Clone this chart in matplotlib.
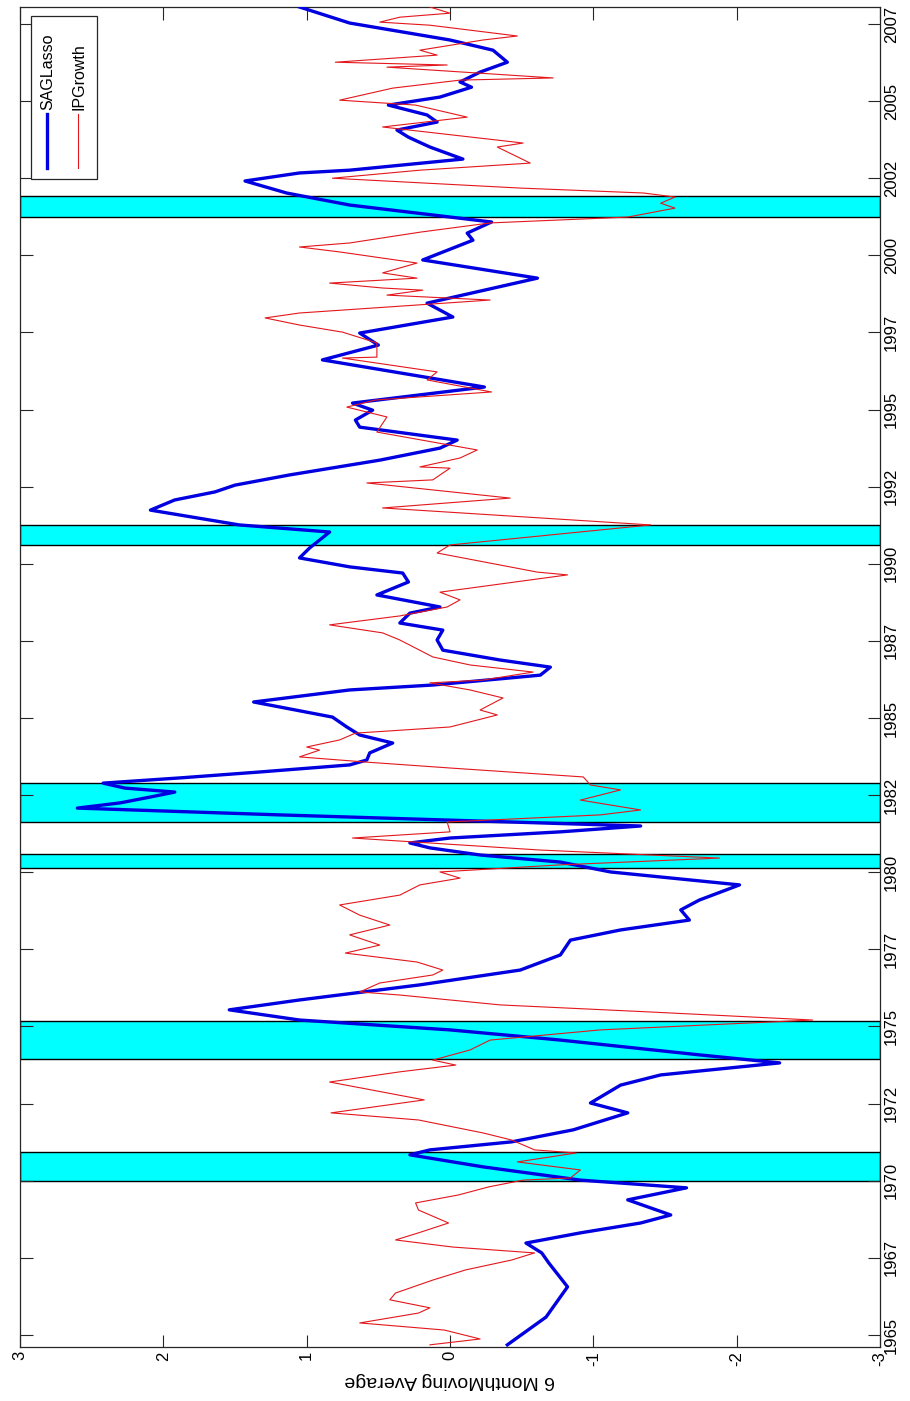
import numpy as np
import matplotlib.pyplot as plt
from matplotlib.patches import Rectangle

# SAGLasso index (6 month moving average)
sag_years = [1964.68, 1965.58, 1966.56, 1967.33, 1967.66, 1967.98, 1968.31, 1968.63, 1968.89, 1969.38,
             1969.77, 1970.02, 1970.45, 1970.84, 1971.00, 1971.26, 1971.65, 1972.20, 1972.52, 1973.10,
             1973.43, 1973.82, 1974.08, 1974.56, 1974.89, 1975.21, 1975.54, 1975.86, 1976.35, 1976.83,
             1977.32, 1977.80, 1978.13, 1978.45, 1978.78, 1979.10, 1979.59, 1980.01, 1980.33, 1980.56,
             1980.79, 1980.95, 1981.11, 1981.31, 1981.50, 1981.69, 1981.86, 1982.08, 1982.25, 1982.44,
             1982.60, 1982.73, 1982.89, 1983.06, 1983.25, 1983.48, 1983.64, 1983.87, 1984.19, 1984.45,
             1984.71, 1985.03, 1985.52, 1985.91, 1986.07, 1986.39, 1986.65, 1986.88, 1987.20, 1987.53,
             1987.85, 1988.08, 1988.40, 1988.60, 1988.99, 1989.41, 1989.70, 1989.90, 1990.19, 1990.51,
             1990.77, 1991.03, 1991.26, 1991.74, 1992.07, 1992.33, 1992.55, 1992.88, 1993.36, 1993.75,
             1994.01, 1994.43, 1994.66, 1994.98, 1995.21, 1995.73, 1996.61, 1997.09, 1997.48, 1998.00,
             1998.45, 1999.26, 1999.85, 2000.49, 2000.72, 2001.08, 2001.63, 2002.02, 2002.41, 2002.67,
             2002.76, 2003.12, 2003.51, 2003.83, 2004.06, 2004.32, 2004.55, 2004.87, 2005.13, 2005.45,
             2005.62, 2005.94, 2006.26, 2006.65, 2006.98, 2007.53, 2008.05]
sag_vals = [-0.40, -0.67, -0.82, -0.69, -0.64, -0.53, -0.91, -1.33, -1.54, -1.24,
            -1.65, -0.91, -0.23, 0.28, 0.14, -0.43, -0.86, -1.24, -0.98, -1.19,
            -1.47, -2.30, -1.74, -0.77, 0.00, 1.05, 1.54, 1.05, 0.21, -0.49,
            -0.77, -0.84, -1.19, -1.67, -1.61, -1.74, -2.02, -1.12, -0.77, -0.21,
            0.14, 0.28, 0.00, -0.77, -1.33, 0.00, 1.19, 2.60, 2.30, 2.09,
            1.92, 2.27, 2.42, 1.88, 1.33, 0.70, 0.58, 0.56, 0.40, 0.63,
            0.72, 0.82, 1.37, 0.70, 0.12, -0.63, -0.70, -0.35, 0.05, 0.09,
            0.05, 0.35, 0.28, 0.07, 0.51, 0.29, 0.33, 0.70, 1.05, 0.98,
            0.91, 0.84, 1.47, 2.09, 1.92, 1.64, 1.50, 1.12, 0.49, 0.07,
            -0.05, 0.63, 0.66, 0.54, 0.68, -0.24, 0.89, 0.50, 0.63, -0.02,
            0.16, -0.61, 0.19, -0.16, -0.12, -0.29, 0.70, 1.14, 1.43, 1.05,
            0.70, -0.09, 0.14, 0.29, 0.37, 0.09, 0.16, 0.43, 0.07, -0.15,
            -0.07, -0.21, -0.40, -0.30, 0.00, 0.70, 1.05]

# Industrial production growth (6 month moving average)
ip_years = [1964.68, 1964.87, 1965.16, 1965.39, 1965.71, 1965.88, 1966.14, 1966.36, 1966.78, 1967.11,
            1967.43, 1967.66, 1967.85, 1968.08, 1968.31, 1968.63, 1969.05, 1969.28, 1969.54, 1969.80,
            1970.02, 1970.09, 1970.35, 1970.61, 1970.90, 1971.00, 1971.32, 1971.55, 1971.71, 1971.97,
            1972.20, 1972.62, 1973.20, 1973.53, 1973.75, 1973.91, 1974.24, 1974.56, 1974.89, 1975.21,
            1975.47, 1975.70, 1976.02, 1976.12, 1976.41, 1976.67, 1976.83, 1977.09, 1977.38, 1977.64,
            1977.97, 1978.29, 1978.61, 1978.94, 1979.26, 1979.59, 1979.81, 1980.01, 1980.24, 1980.46,
            1980.72, 1981.11, 1981.31, 1981.63, 1981.86, 1982.02, 1982.34, 1982.67, 1982.83, 1983.09,
            1983.38, 1983.57, 1983.74, 1983.96, 1984.06, 1984.29, 1984.51, 1984.71, 1985.10, 1985.26,
            1985.65, 1985.91, 1986.14, 1986.23, 1986.49, 1986.72, 1986.98, 1987.53, 1987.76, 1988.02,
            1988.31, 1988.60, 1988.83, 1989.08, 1989.64, 1989.73, 1990.35, 1990.61, 1991.26, 1991.81,
            1992.13, 1992.62, 1992.72, 1993.10, 1993.14, 1993.43, 1993.69, 1994.27, 1994.76, 1995.08,
            1995.31, 1995.57, 1995.96, 1996.22, 1996.67, 1996.70, 1997.16, 1997.51, 1997.74, 1997.97,
            1998.13, 1998.55, 1998.71, 1998.87, 1998.94, 1999.10, 1999.26, 1999.43, 1999.75, 2000.11,
            2000.27, 2000.40, 2000.75, 2001.05, 2001.24, 2001.53, 2001.69, 2001.89, 2002.02, 2002.18,
            2002.34, 2002.50, 2002.76, 2002.99, 2003.51, 2003.64, 2004.16, 2004.48, 2004.87, 2005.03,
            2005.42, 2005.68, 2005.75, 2006.10, 2006.17, 2006.26, 2006.49, 2006.65, 2006.98, 2007.11,
            2007.46, 2007.56, 2007.72, 2007.85, 2008.05]
ip_vals = [0.14, -0.21, 0.04, 0.63, 0.22, 0.14, 0.42, 0.38, 0.12, -0.11,
           -0.43, -0.59, -0.02, 0.38, 0.22, 0.01, 0.22, 0.24, -0.06, -0.27,
           -0.51, -0.84, -0.91, -0.47, -0.88, -0.59, -0.43, -0.23, -0.06, 0.22,
           0.83, 0.18, 0.84, 0.35, -0.04, 0.12, -0.14, -0.28, -1.05, -2.53,
           -1.40, -0.35, 0.35, 0.63, 0.49, 0.12, 0.05, 0.23, 0.73, 0.49,
           0.70, 0.42, 0.63, 0.77, 0.35, 0.21, -0.07, 0.07, -0.77, -1.88,
           -0.63, 0.68, 0.00, 0.02, -1.05, -1.33, -0.91, -1.19, -0.98, -0.93,
           0.00, 0.58, 1.05, 0.91, 1.00, 0.77, 0.66, 0.00, -0.33, -0.21,
           -0.37, -0.14, 0.14, -0.23, -0.58, -0.14, 0.12, 0.35, 0.47, 0.84,
           0.35, 0.02, -0.07, 0.07, -0.82, -0.61, 0.09, 0.00, -1.40, 0.47,
           -0.42, 0.58, 0.12, 0.00, 0.21, -0.07, -0.19, 0.51, 0.44, 0.72,
           0.52, -0.29, 0.16, 0.09, 0.75, 0.51, 0.51, 0.75, 1.05, 1.29,
           1.05, -0.28, 0.44, 0.19, 0.47, 0.84, 0.23, 0.47, 0.23, 0.77,
           1.05, 0.70, 0.21, -0.28, -1.24, -1.57, -1.47, -1.57, -1.35, -0.49,
           0.16, 0.82, 0.21, -0.56, -0.33, -0.51, 0.47, -0.12, 0.24, 0.77,
           0.40, -0.07, -0.72, 0.44, 0.02, 0.80, 0.09, 0.21, -0.23, -0.47,
           0.14, 0.49, 0.35, 0.00, 0.14]

# NBER recession bands
recessions = [(1970.00, 1970.93), (1973.95, 1975.18), (1980.13, 1980.59),
              (1981.62, 1982.90), (1990.60, 1991.27), (2001.24, 2001.93)]

year_ticks = [1965 + 2.5 * k for k in range(18)]
year_labels = ['1965', '1967', '1970', '1972', '1975', '1977', '1980', '1982', '1985',
               '1987', '1990', '1992', '1995', '1997', '2000', '2002', '2005', '2007']
value_ticks = [3, 2, 1, 0, -1, -2, -3]

plt.rcParams['font.family'] = ['Liberation Sans Narrow', 'Liberation Sans', 'DejaVu Sans']

blue = '#0000e0'
red = '#e3171c'
edge = '#262626'

fig = plt.figure(figsize=(9.1, 14.01), dpi=100)
ax = fig.add_axes([20 / 910, 54 / 1401, 860 / 910, 1340 / 1401])

for lo, hi in recessions:
    ax.axhspan(lo, hi, facecolor='#00ffff', edgecolor='black', linewidth=1.0, zorder=1)

ax.plot(sag_vals, sag_years, color=blue, lw=2.4, zorder=3)
ax.plot(ip_vals, ip_years, color=red, lw=0.8, zorder=4)

ax.set_xlim(3, -3)
ax.set_ylim(1964.61, 2008.05)
ax.set_xticks(value_ticks)
ax.set_xticklabels([str(v) for v in value_ticks], rotation=90)
ax.set_yticks(year_ticks)
ax.set_yticklabels(year_labels, rotation=90, va='center')
ax.tick_params(direction='in', length=9, width=0.8, color=edge,
               top=True, bottom=True, left=True, right=True,
               labelleft=False, labelright=True, labelsize=12, pad=3)
for s in ax.spines.values():
    s.set_color(edge)
    s.set_linewidth(0.9)
ax.set_xlabel('6 MonthMoving Average', rotation=180, fontsize=14, labelpad=4)

# legend drawn rotated, like the rest of the figure
ax.add_patch(Rectangle((0.0128, 0.8716), 0.0767, 0.1217, transform=ax.transAxes,
                       facecolor='white', edgecolor=edge, lw=0.9, zorder=5))
ax.plot([0.0314, 0.0314], [0.880, 0.920], transform=ax.transAxes, color=blue, lw=2.4, zorder=6)
ax.plot([0.0674, 0.0674], [0.880, 0.920], transform=ax.transAxes, color=red, lw=0.8, zorder=6)
ax.text(0.0325, 0.923, 'SAGLasso', transform=ax.transAxes, rotation=90,
        ha='center', va='bottom', fontsize=11.5, zorder=6)
ax.text(0.0685, 0.923, 'IPGrowth', transform=ax.transAxes, rotation=90,
        ha='center', va='bottom', fontsize=11.5, zorder=6)

fig.savefig('out.png', dpi=100, facecolor='white')
